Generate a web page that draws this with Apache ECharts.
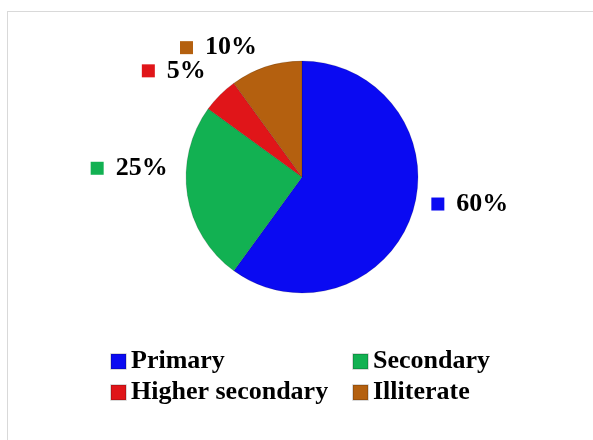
<!DOCTYPE html>
<html>
<head>
<meta charset="utf-8">
<script src="https://cdn.jsdelivr.net/npm/echarts@6/dist/echarts.min.js"></script>
<style>
html,body{margin:0;padding:0;background:#fff;}
#frame{position:absolute;left:7px;top:11px;width:600px;height:440px;border:1px solid #d9d9d9;box-sizing:border-box;}
#chart{position:absolute;left:0;top:0;width:593px;height:440px;}
</style>
</head>
<body>
<div id="frame"></div>
<div id="chart"></div>
<script>
const categories = ['Primary', 'Secondary', 'Higher secondary', 'Illiterate'];
const values = [60, 25, 5, 10];
const colors = ['#0a0af2', '#12b152', '#e01519', '#b4600f'];

const labelShift = [[-5, -15], [5, -30], [5, -10], [2, 0]];

const rich = { t: { fontSize: 26, fontWeight: 'bold', fontFamily: 'Liberation Serif', color: '#000', padding: [0, 0, 0, 12] } };
colors.forEach((c, i) => { rich['m' + i] = { width: 13, height: 13, backgroundColor: c }; });

const chart = echarts.init(document.getElementById('chart'));
chart.setOption({
  animation: false,
  legend: {
    left: 110, top: 346, width: 490, padding: 0,
    itemWidth: 15, itemHeight: 15, itemGap: 0, icon: 'rect',
    textStyle: { width: 221, fontSize: 26, fontWeight: 'bold', fontFamily: 'Liberation Serif', color: '#000', lineHeight: 31 },
    data: categories
  },
  series: [{
    type: 'pie',
    center: [302, 177],
    radius: 116,
    startAngle: 90,
    clockwise: true,
    label: {
      show: true, position: 'outside',
      formatter: p => '{m' + p.dataIndex + '|}{t|' + p.value + '%}',
      rich: rich
    },
    labelLine: { show: false, length: 20, length2: 0 },
    labelLayout: p => ({ dx: labelShift[p.dataIndex][0], dy: labelShift[p.dataIndex][1] }),
    itemStyle: { borderColor: 'rgba(0,0,0,0.15)', borderWidth: 1 },
    data: categories.map((n, i) => ({ name: n, value: values[i], itemStyle: { color: colors[i] } }))
  }]
});
</script>
</body>
</html>
